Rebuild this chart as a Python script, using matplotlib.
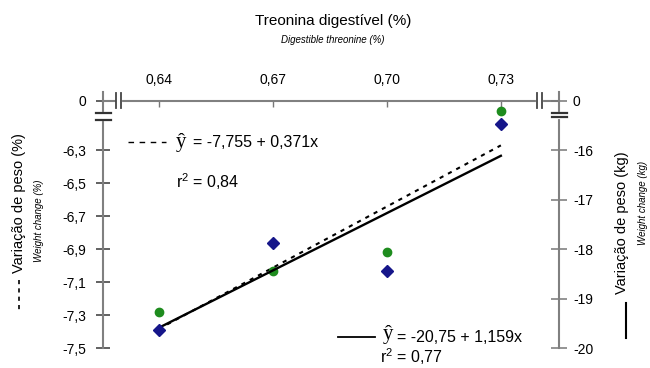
import numpy as np
import matplotlib
matplotlib.use("Agg")
import matplotlib.pyplot as plt
from matplotlib.lines import Line2D

plt.rcParams['font.family'] = ['Liberation Sans', 'DejaVu Sans']

# data
levels = [0.64, 0.67, 0.70, 0.73]          # digestible threonine (%)
codes = [1, 2, 3, 4]                        # level index used in the equations
weight_pct = [-7.28, -7.03, -6.92, -6.06]   # weight change (%), green
weight_kg = [-19.64, -17.88, -18.44, -15.48]  # weight change (kg), blue
coef_pct = [-7.755, 0.371]
coef_kg = [-20.75, 1.159]
pct_ticks = [-7.5, -7.3, -7.1, -6.9, -6.7, -6.5, -6.3]
kg_ticks = [-20, -19, -18, -17, -16]

W, H = 650, 368
def fx(px):
    return px / W
def fy(py):
    return 1 - py / H

fig = plt.figure(figsize=(6.5, 3.68), dpi=100)
ax = fig.add_axes([fx(103), fy(348), (559 - 103) / W, (348 - 100.7) / H])
ax2 = ax.twinx()

ax.set_xlim(0.6253, 0.7453)
ax.set_ylim(-7.5, -6.0)
ax2.set_ylim(-20, -15)

axc = '#808080'
for s in ['bottom', 'right']:
    ax.spines[s].set_visible(False)
for s in ['bottom', 'left', 'top']:
    ax2.spines[s].set_visible(False)
for s in [ax.spines['left'], ax.spines['top'], ax2.spines['right']]:
    s.set_color(axc)
    s.set_linewidth(1.5)

# ticks
ax.xaxis.tick_top()
ax.set_xticks(levels)
ax.set_xticklabels([f"{v:.2f}".replace('.', ',') for v in levels])
ax.tick_params(axis='x', direction='in', length=4, width=1, color='#777777',
               labelsize=10, pad=10)
ax.set_yticks(pct_ticks + [-6.0])
ax.set_yticklabels([f"{v:.1f}".replace('.', ',') for v in pct_ticks] + ['0'])
ax.tick_params(axis='y', direction='inout', length=10, width=1.3, color='#555555',
               labelsize=10, pad=7)
ax2.set_yticks(kg_ticks + [-15])
ax2.set_yticklabels([str(v) for v in kg_ticks] + ['0'])
ax2.tick_params(axis='y', direction='inout', length=12, width=1.1, color='#777777',
                labelsize=10, pad=4)

# regression lines
x_ends = [levels[0], levels[-1]]
c_ends = np.array([codes[0], codes[-1]])
ax.plot(x_ends, coef_pct[0] + coef_pct[1] * c_ends, color='black', lw=1.5,
        ls=(0, (2, 2.5)), zorder=3)
ax2.plot(x_ends, coef_kg[0] + coef_kg[1] * c_ends, color='black', lw=1.7, zorder=3)

# points
ax.plot(levels, weight_pct, 'o', color='#1e8c1e', markersize=6, zorder=4, clip_on=False)
ax2.plot(levels, weight_kg, 'D', color='#16168a', markersize=6.5, zorder=4, clip_on=False)

# axis break decorations
def seg(x0, y0, x1, y1, **kw):
    fig.add_artist(Line2D([fx(x0), fx(x1)], [fy(y0), fy(y1)], **kw))

seg(103, 92, 103, 101, color=axc, lw=1.5)
seg(559, 92, 559, 101, color=axc, lw=1.5)
seg(103, 114, 103, 119, color='white', lw=3)
seg(96, 112.7, 111, 112.7, color='#333333', lw=1.6)
seg(96, 120, 111, 120, color='#333333', lw=1.6)
seg(559, 113.5, 559, 116.5, color='white', lw=3)
seg(552, 112.7, 567, 112.7, color='#333333', lw=1.6)
seg(552, 117.3, 567, 117.3, color='#333333', lw=1.6)
seg(117.5, 100.7, 120, 100.7, color='white', lw=3)
seg(116, 93, 116, 108, color='#444444', lw=1.3)
seg(121, 93, 121, 108, color='#444444', lw=1.3)
seg(538, 100.7, 541, 100.7, color='white', lw=3)
seg(537, 93, 537, 108, color='#444444', lw=1.3)
seg(542, 93, 542, 108, color='#444444', lw=1.3)

# titles and labels
fig.text(fx(333), fy(21), 'Treonina digestível (%)', ha='center', va='center', fontsize=11)
fig.text(fx(333), fy(40), 'Digestible threonine (%)', ha='center', va='center',
         fontsize=7, style='italic')
fig.text(fx(19), fy(203), 'Variação de peso (%)', rotation=90, ha='center', va='center',
         fontsize=10.5)
fig.text(fx(38.5), fy(221), 'Weight change (%)', rotation=90, ha='center', va='center',
         fontsize=7, style='italic')
seg(19, 280, 19, 312, color='black', lw=1.2, ls=(0, (2.5, 2.5)))
fig.text(fx(622), fy(223), 'Variação de peso (kg)', rotation=90, ha='center', va='center',
         fontsize=10.5)
fig.text(fx(643), fy(203), 'Weight change (kg)', rotation=90, ha='center', va='center',
         fontsize=7, style='italic')
seg(626, 303, 626, 338, color='black', lw=1.5)

# equations
seg(128, 142, 166, 142, color='black', lw=1, ls=(0, (4, 4)))
fig.text(fx(176), fy(142), 'ŷ', family='Liberation Serif', fontsize=15, ha='left', va='center')
fig.text(fx(193), fy(142), '= -7,755 + 0,371x', fontsize=11.5, ha='left', va='center')
fig.text(fx(176), fy(182), r'$\mathregular{r^2}$ = 0,84', fontsize=11.5, ha='left', va='center')

seg(338, 337, 375, 337, color='black', lw=1.3)
fig.text(fx(383), fy(335), 'ŷ', family='Liberation Serif', fontsize=15, ha='left', va='center')
fig.text(fx(397), fy(337), '= -20,75 + 1,159x', fontsize=11.5, ha='left', va='center')
fig.text(fx(380), fy(357), r'$\mathregular{r^2}$ = 0,77', fontsize=11.5, ha='left', va='center')

fig.savefig('out.png', dpi=100)
